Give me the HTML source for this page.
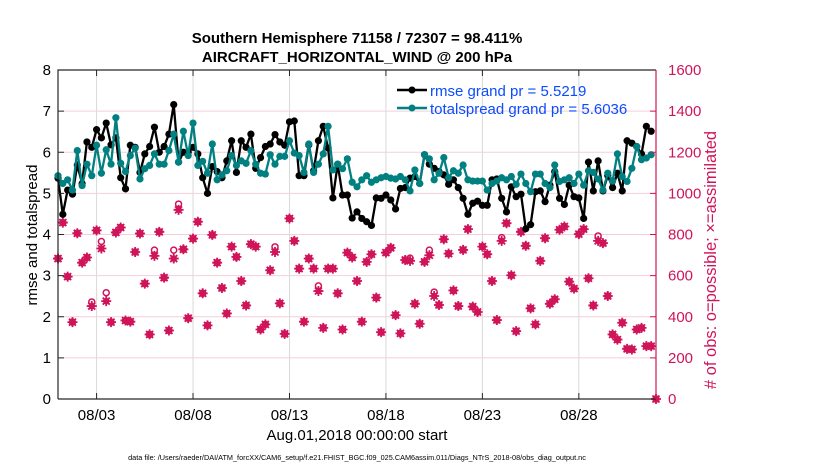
<!DOCTYPE html>
<html><head><meta charset="utf-8"><style>
html,body{margin:0;padding:0;background:#fff;}
svg{display:block;font-family:"Liberation Sans",Arial,sans-serif;}
</style></head><body>
<svg id="chart" width="830" height="470" viewBox="0 0 830 470">
<text x="357" y="43" text-anchor="middle" font-size="15" font-weight="bold">Southern Hemisphere 71158 / 72307 = 98.411%</text>
<text x="357" y="62" text-anchor="middle" font-size="15" font-weight="bold">AIRCRAFT_HORIZONTAL_WIND @ 200 hPa</text>
<g id="grid"></g>
<g id="obs"></g>
<g id="lines"></g>
<g id="axes"></g>
<text transform="translate(37,235) rotate(-90)" text-anchor="middle" font-size="15">rmse and totalspread</text>
<text transform="translate(716,260) rotate(-90)" text-anchor="middle" font-size="16.5" fill="#d0145a"># of obs: o=possible; ×=assimilated</text>
<text x="357" y="440" text-anchor="middle" font-size="15">Aug.01,2018 00:00:00 start</text>
<text x="357" y="460" text-anchor="middle" font-size="7.3">data file: /Users/raeder/DAI/ATM_forcXX/CAM6_setup/f.e21.FHIST_BGC.f09_025.CAM6assim.011/Diags_NTrS_2018-08/obs_diag_output.nc</text>
<g>
<line x1="397" y1="90" x2="427" y2="90" stroke="#000" stroke-width="2.5"/>
<circle cx="412" cy="90" r="3.5" fill="#000"/>
<text x="430" y="96" font-size="15" fill="#0a4cff">rmse grand pr = 5.5219</text>
<line x1="397" y1="108" x2="427" y2="108" stroke="#008080" stroke-width="2.5"/>
<circle cx="412" cy="108" r="3.5" fill="#008080"/>
<text x="430" y="114" font-size="15" fill="#0a4cff">totalspread grand pr = 5.6036</text>
</g>
</svg>
<script>
const xTickDays=[2,7,12,17,22,27];
const xTickLabels=["08/03","08/08","08/13","08/18","08/23","08/28"];
const yLeftTicks=[0,1,2,3,4,5,6,7,8];
const yRightTicks=[0,200,400,600,800,1000,1200,1400,1600];
const rmse=[5.37,4.49,5.08,4.98,5.69,5.24,6.25,6.12,6.55,6.35,6.71,6.18,6.35,5.38,5.11,6.17,6.12,5.51,5.96,6.14,6.61,6.00,6.14,6.44,7.16,5.76,6.00,6.00,6.12,5.96,5.38,5.00,5.65,5.53,5.38,5.79,6.28,5.51,6.28,6.12,6.44,5.61,5.87,6.14,6.20,6.43,6.25,6.17,6.74,6.76,5.43,5.43,6.18,5.55,6.28,6.63,6.10,4.89,5.71,4.96,4.96,4.40,4.55,4.39,
4.31,4.22,4.89,4.88,4.96,4.84,4.62,5.12,5.14,5.37,5.41,5.24,5.94,5.71,5.61,5.53,5.45,5.22,5.33,5.14,4.88,4.49,4.76,4.81,4.71,4.71,5.33,5.35,4.88,4.55,5.16,4.92,4.98,4.14,4.24,5.04,5.06,4.80,5.20,5.53,4.88,4.73,5.20,4.92,4.89,4.39,5.76,5.06,5.79,5.06,5.43,5.14,5.49,5.06,6.28,6.22,6.14,5.96,6.63,6.51];
const spread=[5.43,5.24,5.33,5.08,6.04,5.19,5.71,5.43,6.17,5.49,6.06,5.71,6.84,5.73,5.53,5.92,6.10,5.35,5.60,5.68,5.96,5.71,5.71,6.04,6.44,5.76,6.51,5.92,6.71,5.68,5.78,5.49,6.20,5.33,5.45,5.55,5.92,5.68,5.79,5.73,6.04,5.71,5.49,5.47,5.94,5.71,5.90,5.90,6.28,5.98,5.92,5.51,6.20,5.51,5.71,5.96,6.63,5.57,5.71,5.60,5.84,5.27,5.16,5.33,
5.43,5.27,5.33,5.38,5.41,5.37,5.35,5.41,5.33,5.06,5.57,5.24,5.94,5.84,5.33,5.49,5.87,5.38,5.55,5.49,5.69,5.33,5.30,5.30,5.30,5.08,5.24,5.30,5.38,5.33,5.41,5.22,5.47,5.24,5.04,5.47,5.47,5.24,5.14,5.69,5.29,5.33,5.38,5.24,5.47,5.20,5.55,5.51,5.35,5.08,5.49,5.30,5.96,5.41,5.29,5.61,6.14,5.82,5.86,5.94];
const nAssim=[683,858,595,374,806,663,688,452,820,732,476,374,810,834,382,376,715,805,561,314,696,813,590,333,683,920,728,393,780,862,514,358,798,663,540,416,741,691,574,455,753,741,338,363,626,715,465,317,878,769,634,376,683,634,525,346,634,634,514,338,712,688,574,376,
667,704,493,325,712,735,408,319,676,672,463,366,667,699,501,457,777,707,528,452,725,826,449,423,741,704,574,384,769,855,602,330,813,745,441,363,672,782,463,485,823,839,571,537,802,826,587,455,769,758,501,314,289,371,244,241,338,346,257,257,0];
const nPossible=nAssim.slice();
const possibleExtraIdx=[7,9,10,20,24,25,45,54,73,77,78,92,112];
const possibleExtraVal=[472,766,517,724,724,948,740,550,685,724,520,785,793];
possibleExtraIdx.forEach((k,j)=>{nPossible[k]=possibleExtraVal[j];});

const X0=58,X1=656,Y0=399,Y1=70;
const xs=d=>X0+(d/31)*(X1-X0);
const yl=v=>Y0-(v/8)*(Y0-Y1);
const yr=v=>Y0-(v/1600)*(Y0-Y1);
const dayOf=i=>i*0.25;
const NS="http://www.w3.org/2000/svg";
function mk(tag,attrs,parent){const e=document.createElementNS(NS,tag);for(const k in attrs)e.setAttribute(k,attrs[k]);parent.appendChild(e);return e;}
const grid=document.getElementById('grid'),axes=document.getElementById('axes'),obs=document.getElementById('obs'),lines=document.getElementById('lines');
const red="#d0145a";
mk('rect',{x:X0,y:Y1,width:X1-X0,height:Y0-Y1,fill:"#fff"},grid);
xTickDays.forEach((d,k)=>{
  const g=mk('line',{x1:xs(d),x2:xs(d),y1:Y1,y2:Y0,stroke:"#d9d9d9","stroke-width":1},grid);
  
  
  const t=mk('line',{x1:xs(d),x2:xs(d),y1:Y0,y2:Y0-6,stroke:"#262626"},axes);
  
  
  const t2=mk('line',{x1:xs(d),x2:xs(d),y1:Y1,y2:Y1+6,stroke:"#262626"},axes);
  
  
  const l=mk('text',{x:xs(d),y:420,"text-anchor":"middle","font-size":15},axes);l.textContent=xTickLabels[k];
  
  
});
yRightTicks.forEach(v=>{
  if(v>0&&v<1600){const g=mk('line',{x1:X0,x2:X1,y1:yr(v),y2:yr(v),stroke:"#f3cfdc","stroke-width":1},grid);
  
  }
  const t=mk('line',{x1:X1,x2:X1-6,y1:yr(v),y2:yr(v),stroke:red},axes);
  
  
  const l=mk('text',{x:X1+12,y:yr(v)+5,"font-size":15,fill:red},axes);l.textContent=v;
  
  
});
yLeftTicks.forEach(v=>{
  const t=mk('line',{x1:X0,x2:X0+6,y1:yl(v),y2:yl(v),stroke:"#262626"},axes);
  
  
  const l=mk('text',{x:X0-7,y:yl(v)+5,"font-size":15,"text-anchor":"end"},axes);l.textContent=v;
  
  
});
const bx=mk('path',{d:`M${X0},${Y0}H${X1} M${X0},${Y0}V${Y1}H${X1}`,stroke:"#262626",fill:"none","stroke-width":1.2},axes);


const ra=mk('line',{x1:X1,x2:X1,y1:Y1,y2:Y0,stroke:red,"stroke-width":1.2},axes);


nPossible.forEach((v,i)=>{
  const c=mk('circle',{cx:xs(dayOf(i)),cy:yr(v),r:3,fill:"none",stroke:red,"stroke-width":1.5},obs);
  
  
});
nAssim.forEach((v,i)=>{
  const x=xs(dayOf(i)),y=yr(v),r=5;
  const p=mk('path',{d:`M${x-r},${y}H${x+r}M${x},${y-r}V${y+r}M${x-3.5},${y-3.5}L${x+3.5},${y+3.5}M${x-3.5},${y+3.5}L${x+3.5},${y-3.5}`,stroke:red,"stroke-width":1.8},obs);
  
  
  const c=mk('circle',{cx:x,cy:y,r:3.2,fill:red},obs);
  
  
});
function series(arr,color,name){
  const pts=arr.map((v,i)=>`${xs(dayOf(i)).toFixed(1)},${yl(v).toFixed(1)}`).join(' ');
  const pl=mk('polyline',{points:pts,fill:"none",stroke:color,"stroke-width":2.3,"stroke-linejoin":"round"},lines);
  
  
  arr.forEach((v,i)=>{
    const c=mk('circle',{cx:xs(dayOf(i)),cy:yl(v),r:3.6,fill:color},lines);
    
    
  });
}
series(rmse,"#000",'rmse');
series(spread,"#008080",'totalspread');
</script>
</body></html>
